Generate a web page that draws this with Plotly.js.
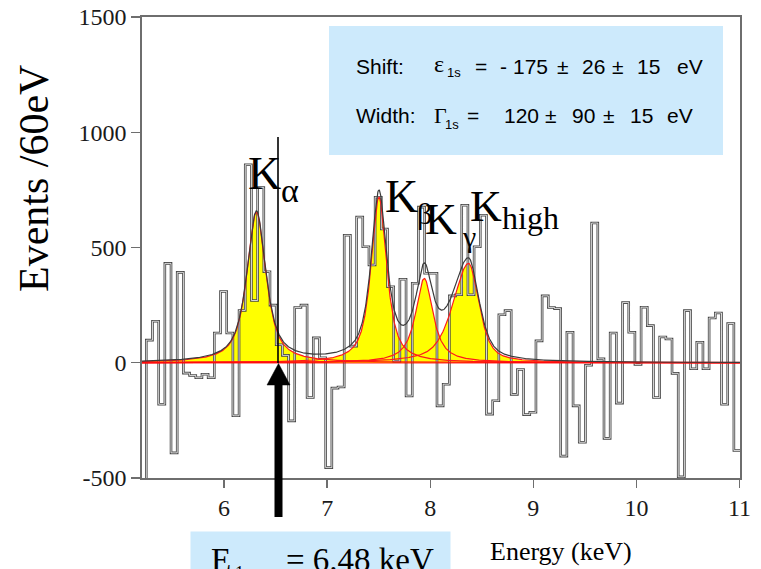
<!DOCTYPE html>
<html><head><meta charset="utf-8">
<script src="https://cdn.plot.ly/plotly-3.0.1.min.js"></script>
<style>html,body{margin:0;padding:0;background:#fff}#chart{width:761px;height:569px}</style>
</head><body><div id="chart"></div>
<script>
// ---------------- data ----------------
const binStart = 5.1856;   // keV, left edge of the first (off-scale) bin
const binWidth = 0.06;     // keV (60 eV bins)
const counts = [
  -620,
  98,180,-180,431,-391,392,-45,-55,-65,-50,
  -65,129,309,129,-230,227,859,270,760,395,
  250,78,32,-252,240,250,-151,108,22,-455,
  -110,-105,553,72,632,503,424,718,580,330,
  7,362,-144,345,675,388,388,-187,-93,290,
  295,683,295,503,640,-223,-165,208,226,-137,
  -29,-225,-215,95,290,240,235,-405,132,-187,
  -345,-11,606,17,-328,129,-175,261,132,-7,
  241,161,-151,112,103,-46,-495,226,-26,89,
  -26,194,216,-180,170,-381
];
const peakNames      = ['Kα', 'Kβ', 'Kγ', 'Khigh'];
const peakCenter     = [6.314, 7.502, 7.942, 8.372];   // keV
const peakAmp        = [653, 718, 366, 431];           // events / 60 eV
const peakHwhmLeft   = [0.11, 0.09, 0.10, 0.18];       // keV
const peakHwhmRight  = [0.11, 0.09, 0.10, 0.12];       // keV
const peakLorentzFrac= [0.8, 0.8, 0.9, 0.6];
const fitBackground  = 0;
const xTickVals = [6, 7, 8, 9, 10, 11];
const xTickText = ['6', '7', '8', '9', '10', '11'];
const yTickVals = [-500, 0, 500, 1000, 1500];
const yTickText = ['-500', '0', '500', '1000', '1500'];
const xRange = [5.204, 11.005];
const yRange = [-500, 1500];

// ---------------- build ----------------
const M = {l:142, r:21, t:17, b:91};
const PW = 761 - M.l - M.r, PH = 569 - M.t - M.b;
const X = px => (px - M.l) / PW;
const Y = py => (569 - M.b - py) / PH;

const histX = [], histY = [];
counts.forEach((c, i) => { histX.push(binStart + i * binWidth); histY.push(c); });
histX.push(binStart + counts.length * binWidth); histY.push(counts[counts.length - 1]);

const grid = [];
for (let e = xRange[0]; e <= xRange[1] + 1e-9; e += 0.004) grid.push(e);
function profile(i, e) {
  const d = e - peakCenter[i];
  const g = d < 0 ? peakHwhmLeft[i] : peakHwhmRight[i];
  const q = (d / g) * (d / g);
  const eta = peakLorentzFrac[i];
  return peakAmp[i] * (eta / (1 + q) + (1 - eta) * Math.exp(-Math.LN2 * q));
}
const peakY = peakNames.map((_, i) => grid.map(e => fitBackground + profile(i, e)));
const totalY = grid.map((e, k) => fitBackground + peakNames.reduce((s, _, i) => s + profile(i, e), 0));

const traces = [];
peakNames.forEach((n, i) => traces.push({x: grid, y: peakY[i], type: 'scatter', mode: 'lines', name: n,
  line: {width: 0, color: '#ffff00'}, fill: 'tozeroy', fillcolor: '#ffff00', hoverinfo: 'skip'}));
traces.push({x: histX, y: histY, type: 'scatter', mode: 'lines', line: {shape: 'hv', color: '#474747', width: 2.6}});
traces.push({x: histX, y: histY, type: 'scatter', mode: 'lines', line: {shape: 'hv', color: '#ffffff', width: 0.8}});
peakNames.forEach((n, i) => traces.push({x: grid, y: peakY[i], type: 'scatter', mode: 'lines',
  line: {width: 1.2, color: '#ff1a1a'}}));
traces.push({x: grid, y: grid.map(() => fitBackground), type: 'scatter', mode: 'lines',
  line: {width: 2.2, color: 'rgba(255,0,0,0.55)'}});
traces.push({x: grid, y: totalY, type: 'scatter', mode: 'lines', line: {width: 1.2, color: '#3a3a3a'}});

const ann = [];
function txt(text, px, py, size, family, extra) {
  ann.push(Object.assign({text: text, x: X(px), y: Y(py), xref: 'paper', yref: 'paper', showarrow: false,
    xanchor: 'left', yanchor: 'middle', font: {family: family, size: size, color: '#000'}}, extra || {}));
}
const SERIF = 'Liberation Serif, Times New Roman, serif';
const SANS = 'Liberation Sans, Arial, sans-serif';
// axis titles
txt('Events /60eV', 34, 179, 42, SERIF, {xanchor: 'center', textangle: -90});
txt('Energy (keV)', 561, 551, 26, SERIF, {xanchor: 'center'});
// result box
txt('Shift:', 354, 66, 21, SANS);
txt('ε', 432, 64, 24, SERIF);
txt('1s', 445, 73, 13, SANS);
txt('=', 473, 66, 21, SANS);
[['-',498],['175',511],['±',555],['26',580],['±',610],['15',635],['eV',675]].forEach(p => txt(p[0], p[1], 66, 21, SANS));
txt('Width:', 354, 116, 21, SANS);
txt('Γ', 432, 116, 22, SERIF);
txt('1s', 443, 125, 13, SANS);
txt('=', 465, 116, 21, SANS);
[['120',502],['±',543],['90',570],['±',601],['15',628],['eV',665]].forEach(p => txt(p[0], p[1], 116, 21, SANS));
// peak labels
txt('K', 246, 173, 46, SERIF);
txt('α', 279, 191, 34, SERIF);
txt('K', 383, 196, 46, SERIF);
txt('β', 415, 213, 30, SERIF);
txt('K', 423, 219, 44, SERIF);
txt('γ', 460, 237, 30, SERIF);
txt('K', 468, 206, 44, SERIF);
txt('high', 500, 218, 32, SERIF);
// E1s box text (cut at bottom as in the original)
txt('E', 209, 560, 33, SERIF);
txt('1s', 233, 573, 18, SERIF);
txt('= 6.48 keV', 284, 560, 33, SERIF);

const shapes = [
  {type: 'rect', xref: 'paper', yref: 'paper', x0: X(329), x1: X(723), y0: Y(155), y1: Y(26),
   fillcolor: '#cdeafc', line: {width: 0}, layer: 'below'},
  {type: 'rect', xref: 'paper', yref: 'paper', x0: X(190.5), x1: X(450.5), y0: Y(590), y1: Y(531.5),
   fillcolor: '#cdeafc', line: {width: 0}, layer: 'below'},
  {type: 'line', xref: 'paper', yref: 'paper', x0: X(278), x1: X(278), y0: Y(137), y1: Y(363),
   line: {color: '#000', width: 1.6}},
  {type: 'line', xref: 'paper', yref: 'paper', x0: X(278.5), x1: X(278.5), y0: Y(383), y1: Y(517),
   line: {color: '#000', width: 8}},
  {type: 'path', xref: 'paper', yref: 'paper',
   path: `M ${X(278.5)} ${Y(363.5)} L ${X(290)} ${Y(385)} L ${X(267)} ${Y(385)} Z`,
   fillcolor: '#000', line: {color: '#000', width: 0.5}}
];

const axisCommon = {showline: true, linecolor: '#6e6e6e', linewidth: 1.6, mirror: true, ticks: 'outside',
  tickcolor: '#6e6e6e', tickwidth: 1.4, showgrid: false, zeroline: false, fixedrange: true,
  tickfont: {family: SERIF, size: 24, color: '#1a1a1a'}};
const layout = {
  width: 761, height: 569, margin: M, showlegend: false, hovermode: false,
  paper_bgcolor: '#fff', plot_bgcolor: '#fff',
  xaxis: Object.assign({}, axisCommon, {range: xRange, tickmode: 'array', tickvals: xTickVals, ticktext: xTickText, ticklen: 8}),
  yaxis: Object.assign({}, axisCommon, {range: yRange, tickmode: 'array', tickvals: yTickVals, ticktext: yTickText, ticklen: 9}),
  annotations: ann, shapes: shapes
};
Plotly.newPlot('chart', traces, layout, {displayModeBar: false, staticPlot: true});
</script></body></html>
